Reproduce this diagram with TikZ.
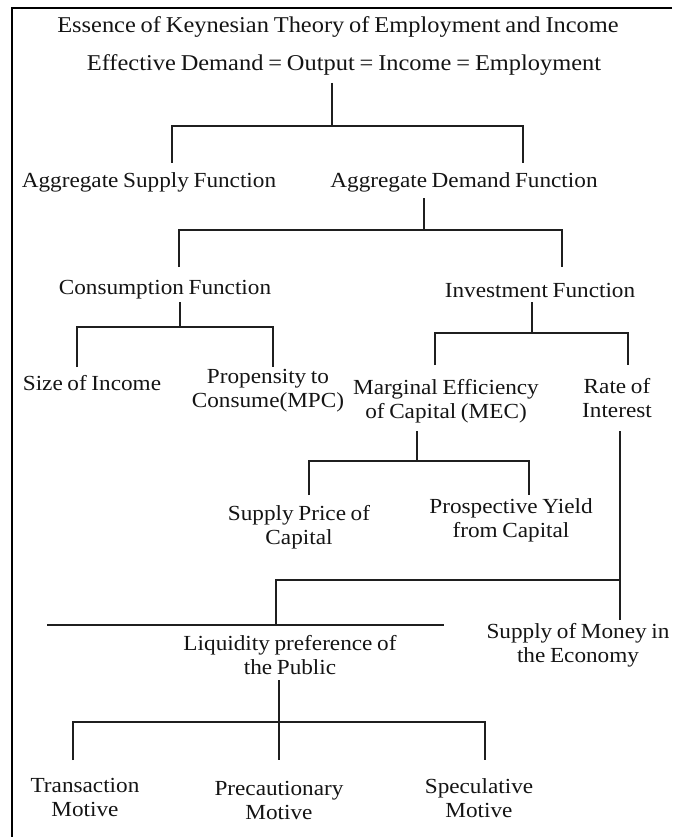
\documentclass[tikz,border=0pt]{standalone}
\usepackage{fontspec}
\setmainfont{Liberation Serif}[FakeStretch=1.08, WordSpace=0.8]
\begin{document}
\begin{tikzpicture}[x=1pt, y=-1pt,
  lbl/.style={font=\fontsize{21.5}{24}\selectfont, align=center, inner sep=0pt, text=black!92},
  headline/.style={lbl, font=\fontsize{22.6}{24}\selectfont},
  conn/.style={line width=1.9pt, black!88},
  frameline/.style={line width=2.6pt, black}]
\useasboundingbox (0,0) rectangle (672,837);

% outer frame: top and left edges only
\coordinate (fTL) at (12,8);
\coordinate (fTR) at (672,8);
\coordinate (fBL) at (12,837);
\draw[frameline] (fTR) -- (fTL) -- (fBL);

% labels
\node[headline] (title) at (338,27) {Essence of Keynesian Theory of Employment and Income};
\node[headline] (eff)   at (344,65) {Effective Demand = Output = Income = Employment};
\node[lbl] (asf)   at (149,182) {Aggregate Supply Function};
\node[lbl] (adf)   at (464,182) {Aggregate Demand Function};
\node[lbl] (cons)  at (165,290) {Consumption Function};
\node[lbl] (inv)   at (540,290) {Investment Function};
\node[lbl] (size)  at (92,383) {Size of Income};
\node[lbl] (mpc)   at (268,391) {Propensity to\\Consume(MPC)};
\node[lbl] (mec)   at (446,401) {Marginal Efficiency\\of Capital (MEC)};
\node[lbl] (rate)  at (617,398) {Rate of\\Interest};
\node[lbl] (spc)   at (299,527) {Supply Price of\\Capital};
\node[lbl] (pyc)   at (511,520) {Prospective Yield\\from Capital};
\node[lbl] (liq)   at (290,655) {Liquidity preference of\\the Public};
\node[lbl] (som)   at (578,645) {Supply of Money in\\the Economy};
\node[lbl] (tm)    at (85,797) {Transaction\\Motive};
\node[lbl] (pm)    at (279,800) {Precautionary\\Motive};
\node[lbl] (sm)    at (479,798) {Speculative\\Motive};

% connector end points
\coordinate (effOut)  at (332,83);
\coordinate (asfIn)   at (172,163);
\coordinate (adfIn)   at (523,163);
\coordinate (adfOut)  at (424,198);
\coordinate (consIn)  at (179,267);
\coordinate (invIn)   at (562,267);
\coordinate (consOut) at (180,302);
\coordinate (sizeIn)  at (77,367);
\coordinate (mpcIn)   at (273,367);
\coordinate (invOut)  at (532,302);
\coordinate (mecIn)   at (435,365);
\coordinate (rateIn)  at (628,365);
\coordinate (mecOut)  at (417,431);
\coordinate (spcIn)   at (309,495);
\coordinate (pycIn)   at (529,495);
\coordinate (rateOut) at (620,431);
\coordinate (somIn)   at (620,620);
\coordinate (rateJn)  at (620,580);
\coordinate (liqBarL) at (47,625);
\coordinate (liqBarR) at (444,625);
\coordinate (liqIn)   at (276,625);
\coordinate (liqOut)  at (279,680);
\coordinate (tmIn)    at (73,760);
\coordinate (pmIn)    at (279,760);
\coordinate (smIn)    at (485,760);

% Effective demand -> supply / demand functions
\draw[conn] (effOut) -- (effOut |- 0,126);
\draw[conn] (asfIn) |- (adfIn |- 0,126) -- (adfIn);
% Aggregate demand -> consumption / investment
\draw[conn] (adfOut) -- (adfOut |- 0,230);
\draw[conn] (consIn) |- (invIn |- 0,230) -- (invIn);
% Consumption function -> size of income / MPC
\draw[conn] (consOut) -- (consOut |- 0,327);
\draw[conn] (sizeIn) |- (mpcIn |- 0,327) -- (mpcIn);
% Investment function -> MEC / rate of interest
\draw[conn] (invOut) -- (invOut |- 0,333);
\draw[conn] (mecIn) |- (rateIn |- 0,333) -- (rateIn);
% MEC -> supply price / prospective yield
\draw[conn] (mecOut) -- (mecOut |- 0,461);
\draw[conn] (spcIn) |- (pycIn |- 0,461) -- (pycIn);
% Rate of interest -> supply of money / liquidity preference
\draw[conn] (rateOut) -- (somIn);
\draw[conn] (rateJn) -| (liqIn);
\draw[conn] (liqBarL) -- (liqBarR);
% Liquidity preference -> motives
\draw[conn] (liqOut) -- (pmIn);
\draw[conn] (tmIn) |- (smIn |- 0,722) -- (smIn);
\end{tikzpicture}
\end{document}
